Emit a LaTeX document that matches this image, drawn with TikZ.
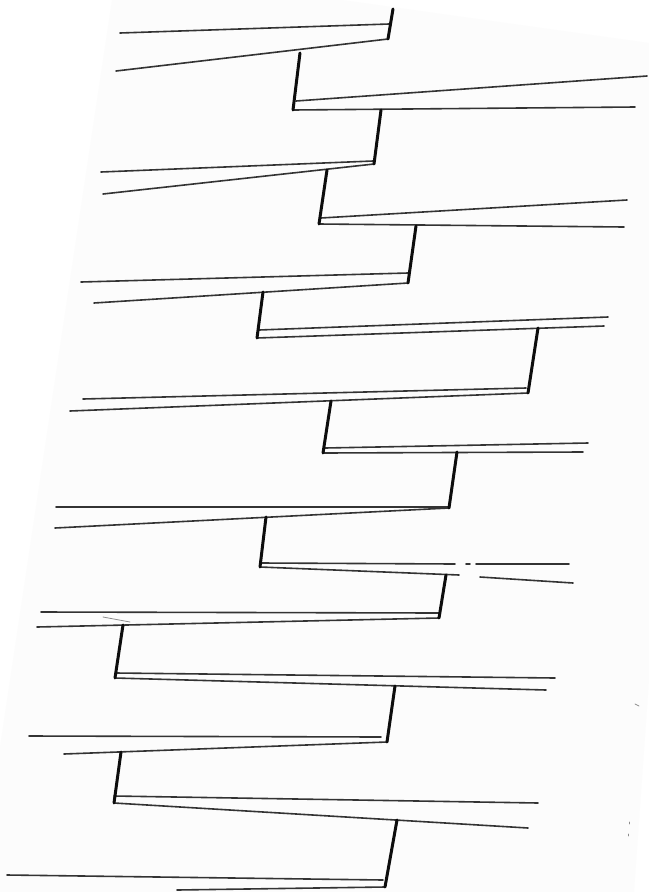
\documentclass[tikz,border=0pt]{standalone}
\usepackage{xcolor}
\usepackage{tikz}
\usetikzlibrary{calc}

\tikzset{
    thinline/.style={draw=black!80, line width=1.6pt, line cap=round},
    barline/.style={draw=black!95, line width=3pt, line cap=round},
    speck/.style={draw=black!45, line width=0.8pt, line cap=round}
}

\begin{document}
\begin{tikzpicture}[x=1pt, y=-1pt]

    % Hoja: marco del escaneo (papel ligeramente girado)
    \useasboundingbox (0,0) rectangle (649,892);
    \fill[white] (0,0) rectangle (649,892);
    \fill[black!1] (112,0) -- (342,0) -- (649,43) -- (649,680) -- (634,892) -- (0,892) -- (0,747) -- cycle;

    % Barras verticales (extremo superior y extremo inferior)
    \coordinate (v1t) at (393,9);    \coordinate (v1b) at (388,39);
    \coordinate (v2t) at (300,53);   \coordinate (v2b) at (293,110);
    \coordinate (v3t) at (381,110);  \coordinate (v3b) at (374,164);
    \coordinate (v4t) at (327,170);  \coordinate (v4b) at (319,224);
    \coordinate (v5t) at (416,226);  \coordinate (v5b) at (408,283);
    \coordinate (v6t) at (263,292);  \coordinate (v6b) at (257,338);
    \coordinate (v7t) at (538,328);  \coordinate (v7b) at (528,393);
    \coordinate (v8t) at (331,401);  \coordinate (v8b) at (323,453);
    \coordinate (v9t) at (457,452);  \coordinate (v9b) at (449,508);
    \coordinate (v10t) at (266,517); \coordinate (v10b) at (260,567);
    \coordinate (v11t) at (446,575); \coordinate (v11b) at (439,618);
    \coordinate (v12t) at (123,625); \coordinate (v12b) at (115,678);
    \coordinate (v13t) at (395,686); \coordinate (v13b) at (387,742);
    \coordinate (v14t) at (121,752); \coordinate (v14b) at (114,803);
    \coordinate (v15t) at (397,820); \coordinate (v15b) at (385,887);

    % Pares de lineas casi horizontales
    \draw[thinline] (120,33) -- (389,24);
    \draw[thinline] (116,71) -- (v1b);
    \draw[thinline] (296,101) -- (647,76);
    \draw[thinline] (v2b) -- (635,107);
    \draw[thinline] (101,172) -- (373,161);
    \draw[thinline] (103,194) -- (v3b);
    \draw[thinline] (321,218) -- (627,200);
    \draw[thinline] (v4b) -- (624,227);
    \draw[thinline] (81,282) -- (408,273);
    \draw[thinline] (94,303) -- (v5b);
    \draw[thinline] (259,330) -- (608,317);
    \draw[thinline] (v6b) -- (604,326);
    \draw[thinline] (83,399) -- (526,388);
    \draw[thinline] (70,411) -- (v7b);
    \draw[thinline] (325,448) -- (588,443);
    \draw[thinline] (v8b) -- (583,452);
    \draw[thinline] (56,507) -- (449,507);
    \draw[thinline] (55,528) -- (v9b);
    % par con huecos
    \draw[thinline] (261,563) -- (455,564) (466,564) -- (470,564) (476,564) -- (569,564);
    \draw[thinline] (v10b) -- (459,575) (480,577) -- (573,583);
    \draw[thinline] (41,612) -- (439,613);
    \draw[thinline] (37,627) -- (v11b);
    \draw[thinline] (116,673) -- (555,678);
    \draw[thinline] (v12b) -- (546,690);
    \draw[thinline] (29,736) -- (381,737);
    \draw[thinline] (64,754) -- (v13b);
    \draw[thinline] (114,796) -- (538,803);
    \draw[thinline] (v14b) -- (528,828);
    \draw[thinline] (7,875) -- (383,880);
    \draw[thinline] (177,890) -- (v15b);

    % Barras (trazo grueso)
    \foreach \i in {1,...,15} {
        \draw[barline] (v\i t) -- (v\i b);
    }

    % Manchas del escaneo
    \draw[speck] (103,617) -- (130,622);
    \draw[speck] (635,704) -- (639,706);
    \draw[speck] (629,822) -- (629,824);
    \draw[speck] (628,834) -- (628,836);

\end{tikzpicture}
\end{document}
